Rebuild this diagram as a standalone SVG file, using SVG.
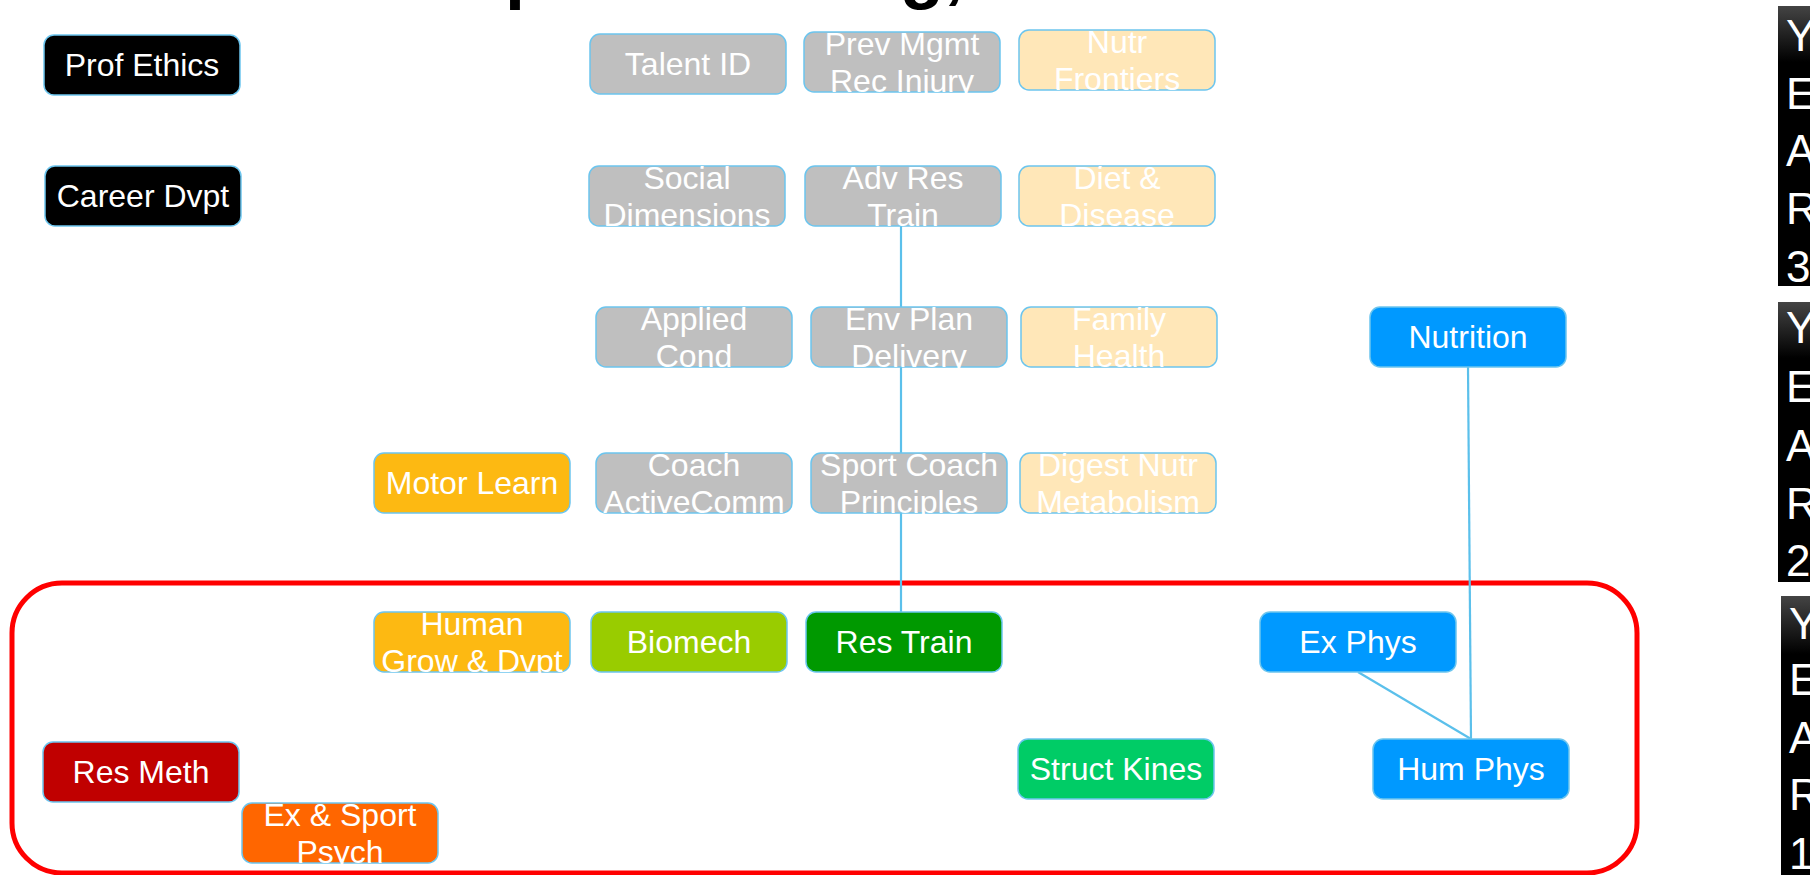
<svg xmlns="http://www.w3.org/2000/svg" width="1810" height="875" viewBox="0 0 1810 875">
<style>
.n{stroke:#6cc5ee;stroke-width:1.5}
.t{font-family:"Liberation Sans",Arial,sans-serif;font-size:32px;fill:#fff;text-anchor:middle}
.blk{fill:#000}.gry{fill:#bfbfbf}.lo{fill:#ffe7b8}.blu{fill:#0099ff}.org{fill:#fdb912}
.grn{fill:#99cc00}.dgr{fill:#009900}.sgr{fill:#00cc66}.red{fill:#c00000}.ora{fill:#ff6600}
.c{stroke:#5bc0eb;stroke-width:2.2;fill:none}
.yr{font-family:"Liberation Sans",Arial,sans-serif;font-size:44px;fill:#fff}
.title{font-family:"Liberation Sans",Arial,sans-serif;font-size:72px;font-weight:bold;fill:#000}
</style>
<defs>
<linearGradient id="yg" x1="0" y1="0" x2="0" y2="1">
<stop offset="0" stop-color="#444"/>
<stop offset="0.2" stop-color="#000"/>
<stop offset="1" stop-color="#000"/>
</linearGradient>
</defs>
<rect width="1810" height="875" fill="#fff"/>
<g id="title">
<text class="title" x="505" y="-5">p</text>
<text class="title" x="900" y="-5">g,</text>
</g>
<rect id="year1-boundary" x="12" y="583" width="1625" height="290" rx="50" fill="none" stroke="#ff0000" stroke-width="5"/>
<g id="connectors">
<line class="c" x1="901" y1="226" x2="901" y2="307"/>
<line class="c" x1="901" y1="367" x2="901" y2="453"/>
<line class="c" x1="901" y1="513" x2="901" y2="612"/>
<line class="c" x1="1468" y1="367" x2="1471" y2="739"/>
<line class="c" x1="1358" y1="672" x2="1471" y2="739"/>
</g>
<g id="prof-ethics"><rect class="n blk" x="44" y="35" width="196" height="60" rx="10"/><text class="t" x="142" y="76">Prof Ethics</text></g>
<g id="career-dvpt"><rect class="n blk" x="45" y="166" width="196" height="60" rx="10"/><text class="t" x="143" y="207">Career Dvpt</text></g>
<g id="talent-id"><rect class="n gry" x="590" y="34" width="196" height="60" rx="10"/><text class="t" x="688" y="75">Talent ID</text></g>
<g id="prev-mgmt"><rect class="n gry" x="804" y="32" width="196" height="60" rx="10"/><text class="t" x="902" y="55">Prev Mgmt</text><text class="t" x="902" y="92">Rec Injury</text></g>
<g id="nutr-frontiers"><rect class="n lo" x="1019" y="30" width="196" height="60" rx="10"/><text class="t" x="1117" y="53">Nutr</text><text class="t" x="1117" y="90">Frontiers</text></g>
<g id="social-dimensions"><rect class="n gry" x="589" y="166" width="196" height="60" rx="10"/><text class="t" x="687" y="189">Social</text><text class="t" x="687" y="226">Dimensions</text></g>
<g id="adv-res-train"><rect class="n gry" x="805" y="166" width="196" height="60" rx="10"/><text class="t" x="903" y="189">Adv Res</text><text class="t" x="903" y="226">Train</text></g>
<g id="diet-disease"><rect class="n lo" x="1019" y="166" width="196" height="60" rx="10"/><text class="t" x="1117" y="189">Diet &amp;</text><text class="t" x="1117" y="226">Disease</text></g>
<g id="applied-cond"><rect class="n gry" x="596" y="307" width="196" height="60" rx="10"/><text class="t" x="694" y="330">Applied</text><text class="t" x="694" y="367">Cond</text></g>
<g id="env-plan-delivery"><rect class="n gry" x="811" y="307" width="196" height="60" rx="10"/><text class="t" x="909" y="330">Env Plan</text><text class="t" x="909" y="367">Delivery</text></g>
<g id="family-health"><rect class="n lo" x="1021" y="307" width="196" height="60" rx="10"/><text class="t" x="1119" y="330">Family</text><text class="t" x="1119" y="367">Health</text></g>
<g id="nutrition"><rect class="n blu" x="1370" y="307" width="196" height="60" rx="10"/><text class="t" x="1468" y="348">Nutrition</text></g>
<g id="motor-learn"><rect class="n org" x="374" y="453" width="196" height="60" rx="10"/><text class="t" x="472" y="494">Motor Learn</text></g>
<g id="coach-activecomm"><rect class="n gry" x="596" y="453" width="196" height="60" rx="10"/><text class="t" x="694" y="476">Coach</text><text class="t" x="694" y="513">ActiveComm</text></g>
<g id="sport-coach-principles"><rect class="n gry" x="811" y="453" width="196" height="60" rx="10"/><text class="t" x="909" y="476">Sport Coach</text><text class="t" x="909" y="513">Principles</text></g>
<g id="digest-nutr-metabolism"><rect class="n lo" x="1020" y="453" width="196" height="60" rx="10"/><text class="t" x="1118" y="476">Digest Nutr</text><text class="t" x="1118" y="513">Metabolism</text></g>
<g id="human-grow-dvpt"><rect class="n org" x="374" y="612" width="196" height="60" rx="10"/><text class="t" x="472" y="635">Human</text><text class="t" x="472" y="672">Grow &amp; Dvpt</text></g>
<g id="biomech"><rect class="n grn" x="591" y="612" width="196" height="60" rx="10"/><text class="t" x="689" y="653">Biomech</text></g>
<g id="res-train"><rect class="n dgr" x="806" y="612" width="196" height="60" rx="10"/><text class="t" x="904" y="653">Res Train</text></g>
<g id="ex-phys"><rect class="n blu" x="1260" y="612" width="196" height="60" rx="10"/><text class="t" x="1358" y="653">Ex Phys</text></g>
<g id="res-meth"><rect class="n red" x="43" y="742" width="196" height="60" rx="10"/><text class="t" x="141" y="783">Res Meth</text></g>
<g id="struct-kines"><rect class="n sgr" x="1018" y="739" width="196" height="60" rx="10"/><text class="t" x="1116" y="780">Struct Kines</text></g>
<g id="hum-phys"><rect class="n blu" x="1373" y="739" width="196" height="60" rx="10"/><text class="t" x="1471" y="780">Hum Phys</text></g>
<g id="ex-sport-psych"><rect class="n ora" x="242" y="803" width="196" height="60" rx="10"/><text class="t" x="340" y="826">Ex &amp; Sport</text><text class="t" x="340" y="863">Psych</text></g>
<g id="year3"><rect x="1778" y="6" width="40" height="280" fill="url(#yg)"/><text class="yr" x="1786"><tspan x="1786" y="51">Y</tspan><tspan x="1786" y="109">E</tspan><tspan x="1786" y="166">A</tspan><tspan x="1786" y="224">R</tspan><tspan x="1786" y="282">3</tspan></text></g>
<g id="year2"><rect x="1778" y="302" width="40" height="280" fill="url(#yg)"/><text class="yr" x="1786"><tspan x="1786" y="343">Y</tspan><tspan x="1786" y="402">E</tspan><tspan x="1786" y="461">A</tspan><tspan x="1786" y="519">R</tspan><tspan x="1786" y="576">2</tspan></text></g>
<g id="year1"><rect x="1781" y="596" width="40" height="290" fill="url(#yg)"/><text class="yr" x="1789"><tspan x="1789" y="639">Y</tspan><tspan x="1789" y="695">E</tspan><tspan x="1789" y="753">A</tspan><tspan x="1789" y="810">R</tspan><tspan x="1789" y="869">1</tspan></text></g>
</svg>
